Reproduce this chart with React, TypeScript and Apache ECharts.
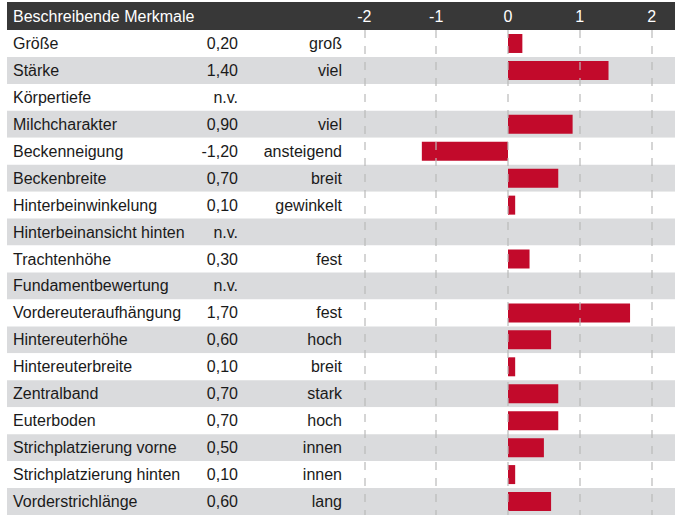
import React, { useEffect, useRef } from "react";
import * as echarts from "echarts";

const traits = [
  "Größe",
  "Stärke",
  "Körpertiefe",
  "Milchcharakter",
  "Beckenneigung",
  "Beckenbreite",
  "Hinterbeinwinkelung",
  "Hinterbeinansicht hinten",
  "Trachtenhöhe",
  "Fundamentbewertung",
  "Vordereuteraufhängung",
  "Hintereuterhöhe",
  "Hintereuterbreite",
  "Zentralband",
  "Euterboden",
  "Strichplatzierung vorne",
  "Strichplatzierung hinten",
  "Vorderstrichlänge",
];

const values: (number | null)[] = [
  0.2, 1.4, null, 0.9, -1.2, 0.7, 0.1, null, 0.3, null, 1.7, 0.6, 0.1, 0.7, 0.7, 0.5, 0.1, 0.6,
];

const descriptors = [
  "groß",
  "viel",
  "",
  "viel",
  "ansteigend",
  "breit",
  "gewinkelt",
  "",
  "fest",
  "",
  "fest",
  "hoch",
  "breit",
  "stark",
  "hoch",
  "innen",
  "innen",
  "lang",
];

const headerTitle = "Beschreibende Merkmale";
const axisTicks = [-2, -1, 0, 1, 2];

const FONT = "Liberation Sans, Arial, sans-serif";
const TEXT = "#1a1a1a";
const FS = 16;

export default function App() {
  const ref = useRef<HTMLDivElement>(null);

  useEffect(() => {
    if (!ref.current) return;
    const chart = echarts.init(ref.current, undefined, { renderer: "svg" });
    const valueLabels = values.map((v) =>
      v === null ? "n.v." : v.toFixed(2).replace(".", ",")
    );
    const ROW = 27.2;
    const TOP = 30;
    const H = ROW * traits.length;
    const X0 = 508;
    const UNIT = 71.8;
    const left = X0 + axisTicks[0] * UNIT;
    const width = (axisTicks[axisTicks.length - 1] - axisTicks[0]) * UNIT;

    const textAxis = (data: string[], margin: number, align: string) => ({
      type: "category",
      gridIndex: 0,
      data,
      inverse: true,
      position: "left",
      axisLine: { show: false },
      axisTick: { show: false },
      splitLine: { show: false },
      splitArea: { show: false },
      axisLabel: {
        inside: true,
        margin,
        align,
        color: TEXT,
        fontSize: FS,
        fontFamily: FONT,
        interval: 0,
      },
    });

    chart.setOption({
      animation: false,
      backgroundColor: "#ffffff",
      textStyle: { fontFamily: FONT },
      graphic: [
        {
          type: "rect",
          z: -1,
          shape: { x: 7, y: 2, width: 668, height: 28 },
          style: { fill: "#383838" },
        },
      ],
      title: {
        text: headerTitle,
        left: 13,
        top: 8,
        padding: 0,
        z: 10,
        textStyle: { color: "#ffffff", fontSize: FS, fontWeight: "normal", fontFamily: FONT },
      },
      grid: [
        { left: 7, top: TOP, width: 668, height: H },
        { left, top: TOP, width, height: H },
      ],
      xAxis: [
        { type: "value", gridIndex: 0, min: 0, max: 1, show: false },
        {
          type: "value",
          gridIndex: 1,
          min: axisTicks[0],
          max: axisTicks[axisTicks.length - 1],
          interval: 1,
          position: "top",
          z: 5,
          axisLine: { show: false },
          axisTick: { show: false },
          axisLabel: {
            color: "#ffffff",
            fontSize: FS,
            fontFamily: FONT,
            margin: 6,
          },
          splitLine: {
            show: true,
            lineStyle: { color: "rgba(185,185,185,0.6)", width: 2, type: [8, 8] },
          },
        },
      ],
      yAxis: [
        {
          type: "category",
          gridIndex: 0,
          data: traits,
          inverse: true,
          axisLine: { show: false },
          axisTick: { show: false },
          axisLabel: {
            inside: true,
            margin: 6,
            align: "left",
            color: TEXT,
            fontSize: FS,
            fontFamily: FONT,
            interval: 0,
          },
          splitLine: { show: false },
          splitArea: {
            show: true,
            interval: 0,
            areaStyle: { color: ["#ffffff", "#dadbdd"] },
          },
        },
        textAxis(valueLabels, 231, "right"),
        textAxis(descriptors, 335, "right"),
        {
          type: "category",
          gridIndex: 1,
          data: traits,
          inverse: true,
          show: false,
        },
      ],
      series: [
        {
          type: "bar",
          xAxisIndex: 1,
          yAxisIndex: 3,
          data: values.map((v) => (v === null ? "-" : v)),
          barWidth: 19,
          itemStyle: { color: "#c20a2b" },
        },
      ],
    });
    return () => chart.dispose();
  }, []);

  return (
    <div
      ref={ref}
      style={{ position: "absolute", left: 0, top: 0, width: 681, height: 515 }}
    />
  );
}
